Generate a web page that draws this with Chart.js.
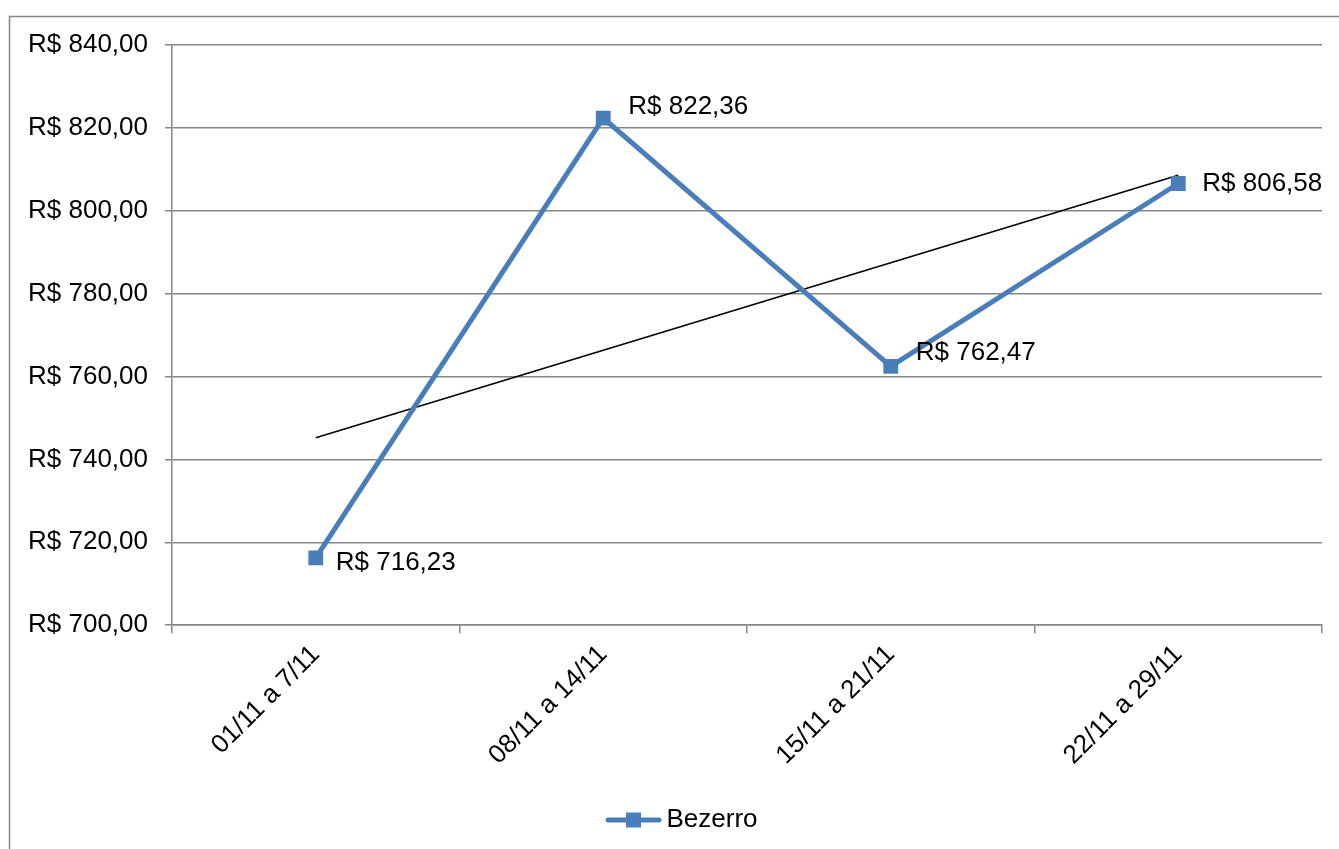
<!DOCTYPE html>
<html>
<head>
<meta charset="utf-8">
<script src="https://cdn.jsdelivr.net/npm/chart.js@4/dist/chart.umd.min.js"></script>
<style>
  html, body { margin: 0; padding: 0; background: #ffffff; }
  #wrap { width: 1339px; height: 849px; position: relative; }
</style>
</head>
<body>
<div id="wrap"><canvas id="c" width="1339" height="849"></canvas></div>
<script>
// ---- data ----
const categories = ['01/11 a 7/11', '08/11 a 14/11', '15/11 a 21/11', '22/11 a 29/11'];
const seriesName = 'Bezerro';
const bezerroValues = [716.23, 822.36, 762.47, 806.58];
// linear trend line endpoints
const trendValues = [745.24, null, null, 808.58];
const yMin = 700;
const yMax = 840;
const yStep = 20;

const FONT = '"Liberation Sans", Arial, sans-serif';
const BLUE = '#4A7EBB';
const GRID = '#868686';

function brl(v) {
  return 'R$ ' + v.toFixed(2).replace('.', ',');
}

// legend symbol: line + square marker (drawn in the right part of the canvas)
const legendSymbol = (function () {
  const cv = document.createElement('canvas');
  cv.width = 106; cv.height = 18;
  const g = cv.getContext('2d');
  g.strokeStyle = BLUE; g.lineWidth = 5; g.lineCap = 'round';
  g.beginPath(); g.moveTo(52, 9); g.lineTo(103, 9); g.stroke();
  g.fillStyle = BLUE; g.fillRect(70, 1.5, 15, 15);
  return cv;
})();

const frameAndLabels = {
  id: 'frameAndLabels',
  beforeDraw(chart) {
    const ctx = chart.ctx;
    ctx.save();
    ctx.strokeStyle = GRID;
    ctx.lineWidth = 1.5;
    ctx.strokeRect(9.5, 16.5, 1400, 900);
    ctx.restore();
  },
  afterDatasetsDraw(chart, args, opts) {
    const ctx = chart.ctx;
    const meta = chart.getDatasetMeta(1);
    ctx.save();
    ctx.font = '26px ' + FONT;
    ctx.fillStyle = '#000000';
    ctx.textAlign = 'left';
    ctx.textBaseline = 'middle';
    meta.data.forEach((pt, i) => {
      const v = chart.data.datasets[1].data[i];
      ctx.fillText(brl(v), pt.x + opts.dx[i], pt.y + opts.dy[i]);
    });
    ctx.restore();
  }
};

new Chart(document.getElementById('c'), {
  type: 'line',
  data: {
    labels: categories,
    datasets: [
      {
        label: 'trend',
        data: trendValues,
        borderColor: '#000000',
        borderWidth: 1.5,
        pointRadius: 0,
        spanGaps: true,
        fill: false,
        tension: 0,
        order: 2
      },
      {
        label: seriesName,
        data: bezerroValues,
        borderColor: BLUE,
        backgroundColor: BLUE,
        borderWidth: 5,
        pointStyle: 'rect',
        pointRadius: 10.5,
        pointBorderWidth: 0,
        pointBackgroundColor: BLUE,
        fill: false,
        tension: 0,
        order: 1
      }
    ]
  },
  options: {
    responsive: false,
    animation: false,
    devicePixelRatio: 1,
    layout: { padding: { top: 45, right: 17, left: 0, bottom: 6 } },
    plugins: {
      tooltip: { enabled: false },
      legend: {
        position: 'bottom',
        labels: {
          usePointStyle: true,
          pointStyle: legendSymbol,
          pointStyleWidth: 89,
          boxHeight: 18,
          color: '#000000',
          font: { family: FONT, size: 26 },
          padding: 10,
          generateLabels: (chart) => [{
            text: seriesName, pointStyle: legendSymbol, fillStyle: BLUE,
            strokeStyle: BLUE, lineWidth: 0, hidden: false, datasetIndex: 1
          }]
        }
      },
      frameAndLabels: {
        dx: [20, 25, 25, 24],
        dy: [5, -11, -13, 0]
      }
    },
    scales: {
      x: {
        type: 'category',
        offset: true,
        afterFit: (scale) => { scale.height += 20; },
        grid: {
          offset: true,
          drawOnChartArea: false,
          drawTicks: true,
          tickLength: 8,
          color: GRID,
          lineWidth: 1.5
        },
        border: { color: GRID, width: 1.5 },
        ticks: {
          minRotation: 45,
          maxRotation: 45,
          autoSkip: false,
          padding: 6,
          color: '#000000',
          font: { family: FONT, size: 26 }
        }
      },
      y: {
        min: yMin,
        max: yMax,
        afterFit: (scale) => { scale.width = 172; },
        grid: {
          color: GRID,
          lineWidth: 1.5,
          drawTicks: true,
          tickLength: 7
        },
        border: { color: GRID, width: 1.5 },
        ticks: {
          stepSize: yStep,
          padding: 17,
          color: '#000000',
          font: { family: FONT, size: 26 },
          callback: (v) => brl(v)
        }
      }
    }
  },
  plugins: [frameAndLabels]
});
</script>
</body>
</html>
